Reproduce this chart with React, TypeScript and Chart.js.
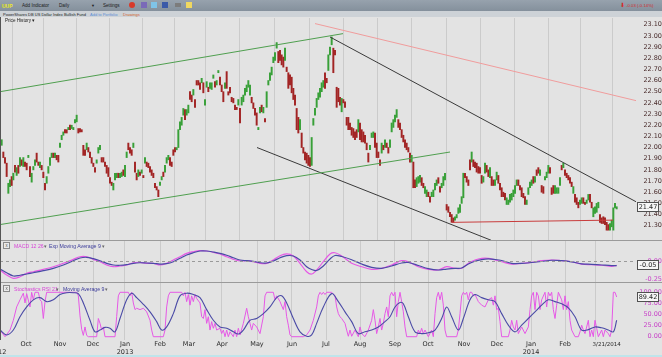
import React, { useEffect, useRef } from "react";
import { Chart, registerables } from "chart.js";

Chart.register(...registerables);

// ---------------- data ----------------
// daily candles (index 1..370)
const opens = [
  22.02,21.96,21.91,21.86,21.59,21.65,21.74,21.71,21.84,21.75,
  21.84,21.83,21.89,21.83,21.87,21.86,21.91,21.83,21.69,21.80,
  21.84,21.95,21.87,21.82,21.84,21.78,21.68,21.68,21.77,21.84,
  21.91,21.95,21.91,21.93,21.93,22.00,22.07,22.11,22.16,22.16,
  22.16,22.20,22.17,22.16,22.22,22.23,22.17,22.17,22.16,22.02,
  21.98,21.98,22.00,21.96,21.91,21.86,21.82,21.86,21.95,21.98,
  21.91,21.91,21.87,21.84,21.82,21.73,21.69,21.62,21.71,21.73,
  21.77,21.73,21.74,21.80,21.74,21.91,22.04,22.00,21.98,22.00,
  21.87,21.77,21.74,21.78,21.77,21.75,21.86,21.87,21.86,21.83,
  21.80,21.77,21.68,21.65,21.62,21.66,21.71,21.78,21.78,21.86,
  21.89,21.91,21.87,21.98,22.00,21.98,22.00,22.16,22.20,22.29,
  22.34,22.29,22.31,22.50,22.47,22.47,22.43,22.60,22.60,22.58,
  22.58,22.58,22.38,22.54,22.54,22.53,22.52,22.62,22.59,22.56,
  22.67,22.63,22.56,22.50,22.53,22.68,22.50,22.54,22.45,22.44,
  22.38,22.36,22.38,22.35,22.38,22.41,22.47,22.50,22.54,22.47,
  22.45,22.40,22.35,22.31,22.16,22.31,22.38,22.31,22.26,22.36,
  22.56,22.60,22.65,22.76,22.78,22.89,22.86,22.87,22.83,22.81,
  22.78,22.72,22.67,22.65,22.63,22.53,22.47,22.35,22.27,22.16,
  22.13,22.00,21.96,21.95,21.93,21.91,21.84,22.20,22.29,22.36,
  22.43,22.45,22.50,22.54,22.67,22.62,22.69,22.83,22.92,22.89,
  22.87,22.54,22.53,22.45,22.32,22.43,22.41,22.27,22.27,22.22,
  22.18,22.17,22.14,22.16,22.14,22.22,22.16,22.14,22.11,22.04,
  21.95,21.98,22.09,22.09,22.13,22.04,21.96,21.89,21.95,22.02,
  22.00,22.04,22.00,22.00,22.14,22.18,22.23,22.27,22.25,22.22,
  22.16,22.11,22.07,22.04,22.00,21.95,21.87,21.87,21.71,21.65,
  21.68,21.69,21.73,21.68,21.59,21.56,21.60,21.56,21.56,21.56,
  21.62,21.66,21.73,21.65,21.64,21.66,21.71,21.49,21.47,21.42,
  21.40,21.37,21.35,21.37,21.41,21.42,21.50,21.55,21.77,21.74,
  21.71,21.89,21.87,21.89,21.87,21.86,21.83,21.82,21.75,21.69,
  21.77,21.84,21.80,21.73,21.74,21.71,21.66,21.71,21.75,21.68,
  21.64,21.60,21.59,21.49,21.49,21.51,21.53,21.56,21.59,21.66,
  21.71,21.66,21.64,21.59,21.56,21.49,21.58,21.64,21.66,21.74,
  21.69,21.80,21.82,21.75,21.66,21.65,21.71,21.73,21.77,21.82,
  21.64,21.66,21.59,21.59,21.59,21.66,21.84,21.82,21.80,21.77,
  21.75,21.73,21.69,21.59,21.58,21.55,21.51,21.49,21.50,21.55,
  21.51,21.50,21.53,21.58,21.51,21.38,21.41,21.42,21.46,21.40,
  21.37,21.38,21.37,21.33,21.31,21.26,21.29,21.26,21.46,21.45,
];
const closes = [
  22.07,21.91,21.86,21.74,21.68,21.71,21.66,21.77,21.78,21.82,
  21.77,21.91,21.84,21.91,21.83,21.80,21.93,21.74,21.77,21.83,
  21.89,21.87,21.84,21.87,21.80,21.73,21.62,21.74,21.83,21.91,
  21.95,21.91,21.95,21.89,21.87,22.04,22.11,22.14,22.13,22.13,
  22.18,22.16,22.20,22.18,22.25,22.29,22.13,22.14,22.14,21.93,
  21.93,22.04,21.96,21.91,21.86,21.83,21.78,21.89,22.00,22.02,
  21.87,21.87,21.83,21.77,21.74,21.68,21.66,21.68,21.77,21.77,
  21.73,21.77,21.78,21.75,21.84,21.96,21.98,21.95,21.93,22.04,
  21.78,21.71,21.80,21.75,21.80,21.73,21.91,21.83,21.82,21.78,
  21.75,21.73,21.64,21.62,21.56,21.69,21.74,21.74,21.84,21.91,
  21.93,21.84,21.83,21.93,21.96,22.00,22.16,22.23,22.27,22.35,
  22.25,22.34,22.38,22.43,22.41,22.52,22.36,22.56,22.56,22.52,
  22.62,22.49,22.43,22.59,22.50,22.58,22.58,22.65,22.54,22.60,
  22.69,22.56,22.50,22.41,22.58,22.53,22.47,22.49,22.41,22.40,
  22.34,22.34,22.43,22.22,22.45,22.47,22.53,22.56,22.60,22.56,
  22.40,22.35,22.29,22.20,22.18,22.36,22.32,22.36,22.23,22.50,
  22.60,22.67,22.72,22.81,22.85,22.94,22.76,22.78,22.74,22.72,
  22.89,22.68,22.53,22.56,22.49,22.43,22.38,22.16,22.13,22.25,
  22.00,21.95,21.89,21.86,21.84,21.83,22.09,22.26,22.35,22.44,
  22.49,22.53,22.58,22.60,22.53,22.58,22.83,22.90,22.99,22.67,
  22.83,22.36,22.41,22.38,22.44,22.40,22.36,22.20,22.16,22.16,
  22.11,22.09,22.07,22.09,22.25,22.07,22.05,22.05,22.04,21.98,
  21.87,22.02,22.13,22.14,22.00,21.91,21.91,21.84,22.04,21.98,
  22.07,22.00,21.95,22.07,22.22,22.25,22.29,22.34,22.18,22.16,
  22.09,22.05,22.00,21.98,21.96,21.87,21.93,21.64,21.64,21.73,
  21.74,21.75,21.66,21.64,21.65,21.62,21.56,21.51,21.60,21.62,
  21.68,21.71,21.68,21.60,21.68,21.74,21.77,21.44,21.42,21.38,
  21.33,21.33,21.38,21.40,21.46,21.49,21.56,21.77,21.73,21.69,
  21.66,21.80,21.96,21.83,21.82,21.78,21.77,21.77,21.68,21.74,
  21.86,21.78,21.74,21.82,21.66,21.66,21.71,21.78,21.68,21.62,
  21.56,21.56,21.53,21.55,21.53,21.58,21.59,21.62,21.66,21.71,
  21.66,21.62,21.56,21.55,21.49,21.53,21.64,21.69,21.71,21.68,
  21.74,21.75,21.77,21.80,21.60,21.59,21.74,21.78,21.84,21.77,
  21.58,21.59,21.66,21.64,21.64,21.73,21.80,21.86,21.75,21.73,
  21.71,21.68,21.65,21.65,21.51,21.49,21.46,21.53,21.55,21.50,
  21.49,21.53,21.58,21.51,21.46,21.46,21.47,21.50,21.51,21.33,
  21.32,21.32,21.31,21.26,21.26,21.32,21.35,21.46,21.50,21.47,
];

const priceTicks = [21.3, 21.4, 21.5, 21.6, 21.7, 21.8, 21.9, 22.0, 22.1, 22.2, 22.3, 22.4, 22.5, 22.6, 22.7, 22.8, 22.9, 23.0, 23.1];
const macdTicks = [-0.25, 0];
const stochTicks = [0, 25, 50, 75, 100];

// month boundaries on the day index axis
const monthTickIdx = [-1.2, 15.6, 36, 55.8, 75, 96, 113.4, 133.2, 154.2, 175.2, 195.6, 216, 237, 256.8, 278.4, 298.2, 318.6, 339, 357, 364];
const monthTickLabels: (string | string[])[] = [
  ["", "2012"], "Oct", "Nov", "Dec", ["Jan", "2013"], "Feb", "Mar", "Apr", "May", "Jun", "Jul",
  "Aug", "Sep", "Oct", "Nov", "Dec", ["Jan", "2014"], "Feb", "", "3/21/2014",
];

// MACD 12 26 and its exp. moving average 9: [dayIndex, value]
const macdLine: [number, number][] = [
  [0,-0.117],[4,-0.186],[8,-0.232],[12,-0.210],[16,-0.163],[20,-0.141],[26,-0.108],[32,-0.072],[38,-0.025],[44,0.030],
  [48,0.066],[52,0.066],[56,0.030],[60,-0.003],[64,-0.048],[68,-0.072],[72,-0.062],[76,-0.048],[80,-0.017],[84,-0.011],
  [88,-0.025],[92,-0.025],[96,-0.048],[100,-0.025],[104,0.021],[108,0.066],[112,0.113],[116,0.135],[120,0.149],[124,0.145],
  [128,0.127],[132,0.104],[136,0.066],[140,0.030],[144,0.007],[148,0.011],[152,-0.003],[156,-0.025],[160,-0.025],[164,0.021],
  [168,0.080],[172,0.104],[176,0.076],[180,-0.025],[184,-0.141],[187,-0.173],[190,-0.117],[194,-0.003],[198,0.104],[201,0.121],
  [205,0.076],[211,-0.025],[217,-0.072],[223,-0.108],[229,-0.094],[235,-0.048],[241,0.011],[245,-0.003],[251,-0.072],[257,-0.108],
  [263,-0.117],[268,-0.072],[273,-0.094],[277,-0.094],[281,-0.025],[285,0.021],[289,0.044],[293,0.044],[297,0.021],[301,-0.003],
  [307,-0.035],[313,-0.025],[319,-0.011],[325,0.011],[331,0.021],[337,0.011],[343,-0.003],[349,-0.035],[355,-0.044],[361,-0.052],
  [367,-0.066],[370,-0.054],
];
const signalLine: [number, number][] = [
  [0,-0.104],[4,-0.155],[8,-0.200],[12,-0.190],[16,-0.173],[20,-0.155],[26,-0.127],[32,-0.094],[38,-0.048],[44,0.011],
  [48,0.048],[52,0.058],[56,0.039],[60,0.011],[64,-0.025],[68,-0.048],[72,-0.052],[76,-0.044],[80,-0.025],[84,-0.017],
  [88,-0.021],[92,-0.025],[96,-0.035],[100,-0.030],[104,-0.003],[108,0.044],[112,0.090],[116,0.121],[120,0.145],[124,0.145],
  [128,0.131],[132,0.113],[136,0.086],[140,0.052],[144,0.021],[148,0.011],[152,0.003],[156,-0.017],[160,-0.021],[164,0.007],
  [168,0.052],[172,0.080],[176,0.076],[180,0.021],[184,-0.072],[187,-0.110],[190,-0.124],[194,-0.062],[198,0.035],[201,0.083],
  [205,0.069],[211,0.025],[217,-0.035],[223,-0.080],[229,-0.094],[235,-0.062],[241,-0.021],[245,-0.014],[251,-0.055],[257,-0.099],
  [263,-0.117],[268,-0.104],[273,-0.094],[277,-0.090],[281,-0.035],[285,0.003],[289,0.025],[293,0.035],[297,0.028],[301,0.014],
  [307,-0.025],[313,-0.025],[319,-0.014],[325,0.000],[331,0.017],[337,0.012],[343,-0.004],[349,-0.032],[355,-0.039],[361,-0.048],
  [367,-0.057],[370,-0.058],
];

// Stochastics RSI 21 and its moving average 9: [dayIndex, value]
const stochRsi: [number, number][] = [
  [0,15],[3,0],[6,15],[8,37],[10,67],[12,83],[14,98],[15,76],[16,97],[18,67],[19,100],[20,83],[21,100],[23,100],[24,83],
  [25,79],[26,41],[27,79],[28,100],[30,100],[38,100],[46,100],[47,92],[48,47],[49,17],[50,3],[51,22],[52,3],[53,0],[58,0],
  [59,41],[60,30],[61,15],[62,22],[63,0],[69,0],[70,45],[71,92],[72,100],[77,100],[78,92],[79,100],[80,76],[81,61],[82,64],
  [84,61],[86,64],[88,56],[90,37],[91,15],[92,0],[98,0],[99,15],[100,67],[101,92],[102,100],[109,100],[110,92],[111,100],[112,79],
  [113,95],[114,71],[115,92],[116,79],[117,95],[118,86],[120,76],[121,45],[122,41],[123,61],[124,30],[125,45],[126,15],[127,34],[128,19],
  [129,30],[130,15],[132,19],[133,7],[134,15],[135,0],[136,15],[137,0],[138,11],[140,0],[141,15],[142,0],[143,19],[144,4],[146,30],
  [148,64],[149,45],[150,30],[151,15],[152,30],[154,22],[156,7],[158,45],[159,92],[160,100],[164,100],[165,83],[166,92],[168,79],[170,61],
  [171,79],[172,45],[173,26],[174,4],[175,0],[182,0],[184,4],[186,15],[188,37],[190,67],[191,92],[192,100],[193,95],[194,100],[195,95],
  [196,100],[199,100],[201,92],[202,67],[203,52],[204,45],[205,41],[207,30],[208,15],[209,1],[210,15],[211,1],[213,15],[215,0],[216,22],
  [217,7],[219,0],[221,15],[223,37],[224,61],[225,37],[226,7],[227,22],[228,41],[229,15],[230,30],[231,52],[232,67],[233,45],[234,92],
  [235,100],[236,92],[237,100],[238,45],[239,79],[240,100],[241,79],[242,56],[243,22],[244,0],[250,0],[251,15],[252,7],[253,19],[254,7],
  [255,15],[257,0],[259,15],[260,0],[261,52],[262,88],[263,100],[264,83],[265,100],[266,71],[267,15],[268,0],[274,0],[275,15],[276,52],
  [277,92],[278,100],[279,95],[280,100],[281,83],[282,100],[283,100],[284,92],[285,95],[287,79],[289,71],[291,67],[293,83],[295,88],[296,71],
  [297,92],[298,61],[299,64],[300,34],[301,0],[305,0],[306,15],[307,37],[308,22],[309,15],[310,37],[311,7],[313,22],[315,7],[317,22],
  [318,61],[319,92],[320,100],[321,61],[322,100],[323,92],[324,61],[325,83],[327,100],[328,67],[329,100],[330,92],[331,100],[332,61],[333,41],
  [334,71],[335,100],[337,83],[338,61],[339,92],[340,61],[341,79],[342,37],[343,15],[345,0],[347,0],[348,11],[349,26],[350,15],[351,7],
  [353,37],[354,0],[355,15],[356,0],[357,37],[358,19],[359,0],[361,15],[362,0],[363,15],[365,7],[366,0],[367,15],[368,100],[369,100],
  [370,89.42],
];
const stochMa: [number, number][] = [
  [0,15],[4,4],[8,15],[12,45],[16,67],[20,83],[24,88],[28,79],[32,83],[36,95],[40,99],[44,99],[47,97],[50,76],[54,37],
  [57,11],[60,15],[63,21],[66,19],[69,11],[72,41],[76,83],[79,98],[82,88],[86,73],[90,56],[94,34],[97,15],[100,22],[104,52],
  [108,92],[112,98],[116,95],[120,88],[124,61],[128,37],[132,22],[136,19],[140,11],[143,6],[146,15],[150,37],[154,41],[158,52],[162,67],
  [166,88],[169,92],[172,76],[176,41],[180,11],[184,1],[187,4],[190,30],[194,67],[199,97],[203,79],[207,56],[211,34],[215,7],[219,11],
  [223,15],[227,22],[231,34],[234,45],[237,67],[240,77],[242,74],[245,45],[249,11],[253,7],[257,9],[261,15],[265,41],[268,67],[271,45],
  [275,15],[278,41],[282,83],[285,95],[289,88],[293,83],[297,79],[301,52],[305,26],[309,11],[313,26],[317,41],[321,56],[325,71],[329,83],
  [333,79],[337,74],[341,65],[345,45],[349,15],[353,16],[357,22],[361,20],[365,15],[368,11],[370,37],
];

// drawn trend lines: [dayIndex, price] end points
const upperGreen: [number, number][] = [[0, 22.50], [205.8, 23.02]];
const lowerGreen: [number, number][] = [[0, 21.31], [270, 21.96]];
const upperBlack: [number, number][] = [[198, 22.99], [382.2, 21.51]];
const lowerBlack: [number, number][] = [[154.2, 22.0], [294.6, 21.17]];
const supportRed: [number, number][] = [[271.2, 21.33], [367.8, 21.35]];
const resistPink: [number, number][] = [[189, 23.11], [381.6, 22.42]];

// ---------------- styling ----------------
const X_MIN = 0;
const X_MAX = 381.6;
const GRID = "#cbcbcb";
const GREEN = "#38a038";
const RED = "#a22424";
const PINK = "#e658e6";
const BLUE = "#4a4aa6";
const AXFONT = "DejaVu Sans";

const pts = (arr: [number, number][]) => arr.map(([x, y]) => ({ x, y }));

const valueBoxPlugin = {
  id: "valueBox",
  afterDraw(chart: any, _a: any, opts: any) {
    if (!opts || opts.value == null) return;
    const ctx = chart.ctx;
    const y = Math.round(chart.scales.y.getPixelForValue(opts.value));
    const x = Math.round(chart.chartArea.right) + 1;
    ctx.save();
    ctx.fillStyle = "#f7f7f7";
    ctx.fillRect(x, y - 5, 21, 10);
    ctx.strokeStyle = "#505050";
    ctx.lineWidth = 1;
    ctx.strokeRect(x + 0.5, y - 4.5, 21, 9);
    ctx.fillStyle = "#1e1e1e";
    ctx.font = `6.5px "${AXFONT}"`;
    ctx.textAlign = "center";
    ctx.textBaseline = "middle";
    ctx.fillText(opts.text, x + 11, y + 0.5);
    ctx.restore();
  },
};

function xScale(showLabels: boolean) {
  return {
    type: "linear",
    min: X_MIN,
    max: X_MAX,
    offset: false,
    afterBuildTicks: (s: any) => {
      s.ticks = monthTickIdx.map((v) => ({ value: v }));
    },
    afterFit: (s: any) => {
      s.height = showLabels ? 17 : 0;
      s.paddingLeft = 0;
      s.paddingRight = 0;
    },
    grid: {
      color: (c: any) => (c.tick && (c.tick.value < 0 || c.tick.value === 364) ? "rgba(0,0,0,0)" : GRID),
      lineWidth: 1,
      drawTicks: false,
    },
    border: { display: false },
    ticks: {
      display: showLabels,
      autoSkip: false,
      maxRotation: 0,
      minRotation: 0,
      padding: 1,
      color: "#2b2b2b",
      font: (c: any) => ({ family: AXFONT, size: c.tick && c.tick.value === 364 ? 5.5 : 6.5, lineHeight: 1.17 }),
      callback: (_v: any, i: number) => monthTickLabels[i],
    },
  };
}

function makeOptions(cfg: {
  min: number; max: number; ticks: number[]; color: string; pad: number; showX: boolean; box: any;
}) {
  return {
    responsive: false,
    maintainAspectRatio: false,
    animation: false,
    devicePixelRatio: 1,
    events: [],
    layout: { padding: 0 },
    plugins: { legend: { display: false }, tooltip: { enabled: false }, valueBox: cfg.box },
    scales: {
      x: xScale(cfg.showX),
      y: {
        type: "linear",
        position: "right",
        min: cfg.min,
        max: cfg.max,
        afterBuildTicks: (s: any) => {
          s.ticks = cfg.ticks.map((v) => ({ value: v }));
        },
        afterFit: (s: any) => {
          s.width = 26;
          s.paddingTop = 0;
          s.paddingBottom = 0;
        },
        grid: { display: false },
        border: { display: false },
        ticks: {
          crossAlign: "far",
          padding: cfg.pad,
          color: cfg.color,
          font: { family: AXFONT, size: 6.5 },
          callback: (v: any) => Number(v).toFixed(2),
        },
      },
    },
  };
}

const trend = (arr: [number, number][], color: string) => ({
  type: "line",
  data: pts(arr),
  borderColor: color,
  borderWidth: 1,
  pointRadius: 0,
  order: 1,
});

export default function App() {
  const pRef = useRef<HTMLCanvasElement>(null);
  const mRef = useRef<HTMLCanvasElement>(null);
  const sRef = useRef<HTMLCanvasElement>(null);

  useEffect(() => {
    const charts: Chart[] = [];
    const lastClose = closes[closes.length - 1];
    charts.push(
      new Chart(pRef.current as HTMLCanvasElement, {
        type: "bar",
        data: {
          datasets: [
            {
              type: "bar",
              data: opens.map((o, i) => ({ x: i + 1, y: [o, closes[i]] })),
              backgroundColor: opens.map((o, i) => (closes[i] >= o ? GREEN : RED)),
              barThickness: 1.3,
              minBarLength: 1,
              order: 2,
            },
            trend(upperGreen, "#4f9f4f"),
            trend(lowerGreen, "#4f9f4f"),
            trend(upperBlack, "#3a3a3a"),
            trend(lowerBlack, "#3a3a3a"),
            trend(supportRed, "#c83c3c"),
            trend(resistPink, "#f09c9c"),
          ] as any,
        },
        options: makeOptions({
          min: 21.172, max: 23.16, ticks: priceTicks, color: "#4a2c2c", pad: 1, showX: false,
          box: { value: lastClose, text: lastClose.toFixed(2) },
        }) as any,
        plugins: [valueBoxPlugin],
      })
    );

    const lastMacd = macdLine[macdLine.length - 1][1];
    charts.push(
      new Chart(mRef.current as HTMLCanvasElement, {
        type: "line",
        data: {
          datasets: [
            {
              data: [{ x: X_MIN, y: 0 }, { x: X_MAX, y: 0 }],
              borderColor: "#9a9a9a",
              borderWidth: 1,
              borderDash: [3, 3],
              pointRadius: 0,
            },
            { data: pts(signalLine), borderColor: BLUE, borderWidth: 1.2, pointRadius: 0, tension: 0.35 },
            { data: pts(macdLine), borderColor: PINK, borderWidth: 1.2, pointRadius: 0, tension: 0.35 },
          ] as any,
        },
        options: makeOptions({
          min: -0.283, max: 0.283, ticks: macdTicks, color: "#c844c8", pad: 3, showX: false,
          box: { value: lastMacd, text: lastMacd.toFixed(2) },
        }) as any,
        plugins: [valueBoxPlugin],
      })
    );

    const lastStoch = stochRsi[stochRsi.length - 1][1];
    charts.push(
      new Chart(sRef.current as HTMLCanvasElement, {
        type: "line",
        data: {
          datasets: [
            { data: pts(stochMa), borderColor: BLUE, borderWidth: 1.1, pointRadius: 0, tension: 0.35 },
            { data: pts(stochRsi), borderColor: PINK, borderWidth: 1, pointRadius: 0, tension: 0 },
          ] as any,
        },
        options: makeOptions({
          min: -7.4, max: 120.9, ticks: stochTicks, color: "#c844c8", pad: 0.5, showX: true,
          box: { value: lastStoch, text: lastStoch.toFixed(2) },
        }) as any,
        plugins: [valueBoxPlugin],
      })
    );
    return () => charts.forEach((c) => c.destroy());
  }, []);

  const t = (left: number, top: number, text: string, color: string, size: number, extra: any = {}) => (
    <div
      style={{
        position: "absolute", left, top, fontSize: size, lineHeight: `${size + 1}px`, color,
        whiteSpace: "nowrap", ...extra,
      }}
    >
      {text}
    </div>
  );
  const icon = (left: number, bg: string, extra: any = {}) => (
    <div style={{ position: "absolute", left, top: 2, width: 6, height: 6, background: bg, ...extra }} />
  );
  const xbox = (top: number) => (
    <div
      style={{
        position: "absolute", left: 3, top, width: 5, height: 5, border: "1px solid #8a8a8a",
        background: "#eaeaea", fontSize: 4.5, lineHeight: "5px", textAlign: "center", color: "#555",
      }}
    >
      x
    </div>
  );

  return (
    <div
      style={{
        position: "absolute", left: 0, top: 0, width: 662, height: 357, overflow: "hidden",
        background: "#e3e3e3", fontFamily: '"Liberation Sans", Arial, sans-serif',
      }}
    >
      {/* toolbar */}
      <div style={{ position: "absolute", left: 0, top: 0, width: 662, height: 11, background: "linear-gradient(#97a2ad,#84909c)" }} />
      {t(2, 3, "UUP", "#ecec1c", 5, { fontWeight: "bold" })}
      {t(22, 3, "Add Indicator", "#1c1c1c", 4.6)}
      {t(59, 3, "Daily", "#1c1c1c", 4.6)}
      {t(91, 3, "▼", "#1c1c1c", 4)}
      {t(103, 3, "Settings", "#1c1c1c", 4.6)}
      {icon(129, "#d83a2a", { borderRadius: 3 })}
      {icon(141, "#7a6ab8")}
      {icon(151, "#7fc4e8")}
      {icon(162, "#3b5aa8")}
      {icon(175, "#7c7c7c", { height: 4, top: 3 })}
      {icon(186, "#f0d860")}
      {t(620, 2, "⬇", "#d42a2a", 5.5)}
      {t(626, 3, "-0.03 (-0.14%)", "#d42a2a", 4.3)}
      {/* sub toolbar */}
      <div style={{ position: "absolute", left: 0, top: 11, width: 662, height: 6, background: "#cdd2d7" }} />
      {t(3, 12, "PowerShares DB US Dollar Index Bullish Fund", "#222", 4)}
      {t(90, 12, "Add to Portfolio", "#5b8fd6", 4)}
      {t(123, 12, "Drawings", "#d2622d", 4)}

      <canvas ref={pRef} width={662} height={222} style={{ position: "absolute", left: 0, top: 18, width: 662, height: 222 }} />
      <canvas ref={mRef} width={662} height={41} style={{ position: "absolute", left: 0, top: 241, width: 662, height: 41 }} />
      <canvas ref={sRef} width={662} height={74} style={{ position: "absolute", left: 0, top: 283, width: 662, height: 74 }} />

      {t(5, 18, "Price History ▾", "#222", 4.6)}
      {/* panel separators and borders */}
      <div style={{ position: "absolute", left: 0, top: 240, width: 662, height: 1, background: "#9a9a9a" }} />
      <div style={{ position: "absolute", left: 0, top: 282, width: 662, height: 1, background: "#9a9a9a" }} />
      <div style={{ position: "absolute", left: 0, top: 17, width: 1, height: 323, background: "#555" }} />
      <div style={{ position: "absolute", left: 0, top: 355, width: 662, height: 2, background: "#bfe4ea" }} />

      {xbox(242)}
      {t(14, 243, "MACD 12 26", "#d844d8", 5.2)}
      {t(44, 243, "▾", "#666", 5.2)}
      {t(49, 243, "Exp Moving Average 9", "#3c3c9a", 5.2)}
      {t(102, 243, "▾", "#666", 5.2)}

      {xbox(285)}
      {t(14, 285.5, "Stochastics RSI 21", "#d844d8", 5.2)}
      {t(56, 285.5, "▾", "#666", 5.2)}
      {t(63, 285.5, "Moving Average 9", "#3c3c9a", 5.2)}
      {t(105, 285.5, "▾", "#666", 5.2)}
    </div>
  );
}
